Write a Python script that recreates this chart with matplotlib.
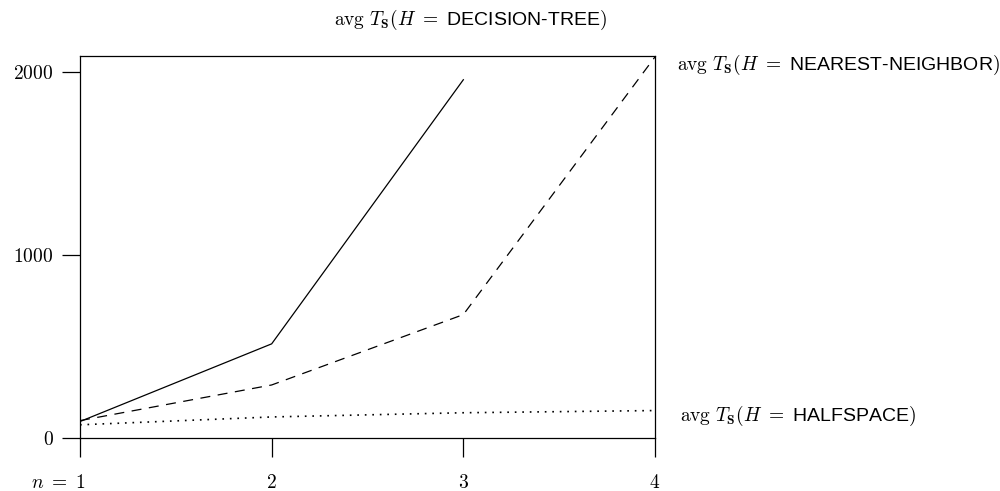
import matplotlib
matplotlib.use("Agg")
import matplotlib.pyplot as plt
from matplotlib.transforms import ScaledTranslation

plt.rcParams['font.family'] = ['Liberation Sans', 'DejaVu Sans']
plt.rcParams['mathtext.fontset'] = 'cm'

n_values = [1, 2, 3, 4]
decision_tree = [90, 515, 1960]
nearest_neighbor = [95, 290, 675, 2085]
halfspace = [72, 115, 138, 150]

x_tick_labels = [r'$n\ =\ 1$', r'$2$', r'$3$', r'$4$']
y_ticks = [0, 1000, 2000]
y_tick_labels = [r'$0$', r'$1000$', r'$2000$']

label_dt = r'$\mathrm{avg}\ T_{\mathbf{S}}(H\ =\ $DECISION-TREE$)$'
label_nn = r'$\mathrm{avg}\ T_{\mathbf{S}}(H\ =\ $NEAREST-NEIGHBOR$)$'
label_hs = r'$\mathrm{avg}\ T_{\mathbf{S}}(H\ =\ $HALFSPACE$)$'

fig = plt.figure(figsize=(10, 4.91), dpi=100)
ax = fig.add_axes([0.08, 0.108, 0.575, 0.778])

ax.plot(n_values[:3], decision_tree, color='black', lw=0.9, ls='-')
ax.plot(n_values, nearest_neighbor, color='black', lw=0.9, ls=(0, (8, 6)))
ax.plot(n_values, halfspace, color='black', lw=1.2, ls=(0, (1, 3.5)))

ax.set_xlim(1, 4)
ax.set_ylim(0, 2090)
ax.set_xticks(n_values)
ax.set_xticklabels(x_tick_labels, fontsize=14)
ax.set_yticks(y_ticks)
ax.set_yticklabels(y_tick_labels, fontsize=14)
ax.tick_params(axis='x', direction='out', length=14, width=0.9, pad=12)
ax.tick_params(axis='y', direction='out', length=13, width=0.9, pad=6)
for s in ax.spines.values():
    s.set_linewidth(0.9)

first = ax.get_xticklabels()[0]
first.set_ha('right')
first.set_transform(first.get_transform() + ScaledTranslation(6 / 100, 0, fig.dpi_scale_trans))

ax.annotate(label_dt, xy=(n_values[2], 2090), xytext=(5, 26), textcoords='offset points',
            ha='center', va='center', fontsize=14, annotation_clip=False)
ax.annotate(label_nn, xy=(n_values[3], nearest_neighbor[3]), xytext=(16, -6), textcoords='offset points',
            ha='left', va='center', fontsize=14, annotation_clip=False)
ax.annotate(label_hs, xy=(n_values[3], halfspace[3]), xytext=(18, -4), textcoords='offset points',
            ha='left', va='center', fontsize=14, annotation_clip=False)

fig.savefig('out.png', dpi=100)
